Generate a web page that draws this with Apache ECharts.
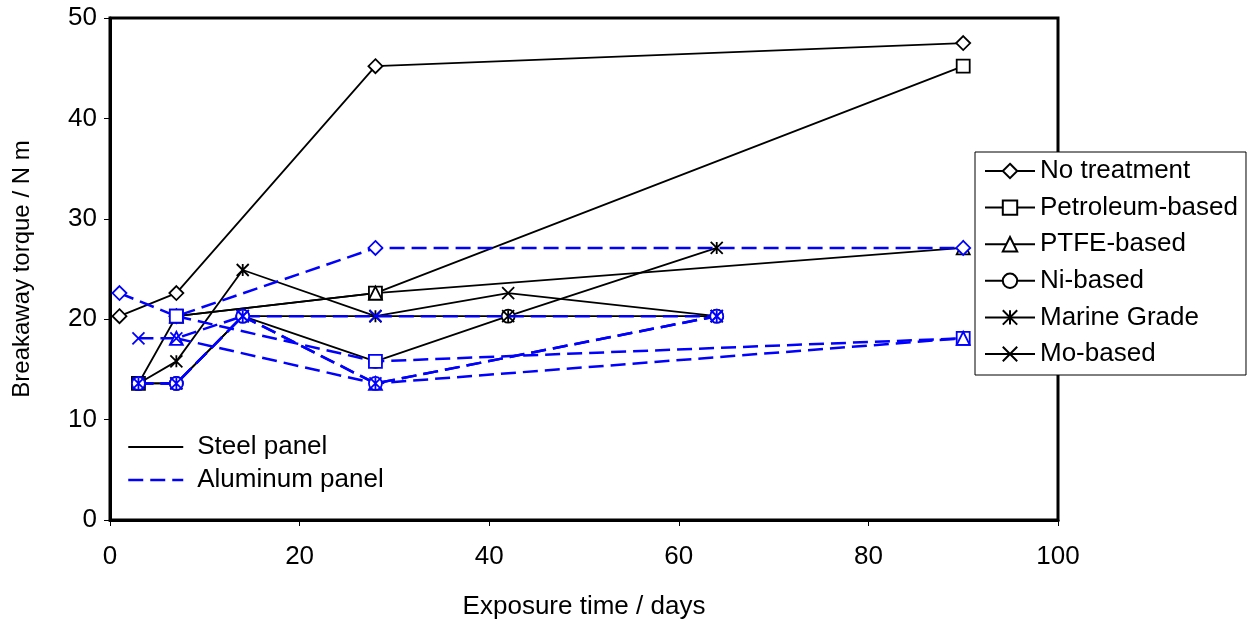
<!DOCTYPE html>
<html>
<head>
<meta charset="utf-8">
<script src="https://cdn.jsdelivr.net/npm/echarts@6/dist/echarts.min.js"></script>
<style>html,body{margin:0;padding:0;background:#fff}#c{width:1247px;height:627px}</style>
</head>
<body>
<div id="c"></div>
<script>
// Exposure days (x positions)
const days = [1, 3, 7, 14, 28, 42, 64, 90];
// Steel panel (N m)
const steelNoTreatment = [20.3, null, 22.6, null, 45.2, null, null, 47.5];
const steelPetroleum   = [null, 13.6, 20.3, null, 22.6, null, null, 45.2];
const steelPTFE        = [null, null, 20.3, null, 22.6, null, null, 27.1];
const steelNi          = [null, 13.6, 13.6, 20.3, 15.8, 20.3, 20.3, null];
const steelMarine      = [null, 13.6, 15.8, 24.9, 20.3, 20.3, 27.1, null];
const steelMo          = [null, 13.6, 13.6, 20.3, 20.3, 22.6, 20.3, null];
// Aluminum panel (N m)
const alNoTreatment = [22.6, null, 20.3, null, 27.1, null, null, 27.1];
const alPetroleum   = [null, null, 20.3, null, 15.8, null, null, 18.1];
const alPTFE        = [null, null, 18.1, null, 13.6, null, null, 18.1];
const alNi          = [null, 13.6, 13.6, 20.3, 13.6, null, 20.3, null];
const alMarine      = [null, 13.6, 13.6, 20.3, 13.6, null, 20.3, null];
const alMo          = [null, 18.1, 18.1, 20.3, 20.3, null, 20.3, null];
// Labels
const treatments = ['No treatment', 'Petroleum-based', 'PTFE-based', 'Ni-based', 'Marine Grade', 'Mo-based'];
const panels = ['Steel panel', 'Aluminum panel'];

const SYM = {
  'No treatment': 'diamond',
  'Petroleum-based': 'rect',
  'PTFE-based': 'triangle',
  'Ni-based': 'circle',
  'Marine Grade': 'path://M0,0L10,10M10,0L0,10M5,0L5,10',
  'Mo-based': 'path://M0,0L10,10M10,0L0,10'
};
const SIZE = {
  'No treatment': 14, 'Petroleum-based': 13, 'PTFE-based': 13,
  'Ni-based': 13, 'Marine Grade': 12, 'Mo-based': 12
};
const DASH = [15, 7];

function pts(arr) {
  const out = [];
  arr.forEach((v, i) => { if (v !== null) out.push([days[i], v]); });
  return out;
}

const steelSets = [steelNoTreatment, steelPetroleum, steelPTFE, steelNi, steelMarine, steelMo];
const alSets = [alNoTreatment, alPetroleum, alPTFE, alNi, alMarine, alMo];

const series = [];
function addSeries(sets, color, dashed, tag) {
  sets.forEach((arr, k) => {
    const t = treatments[k];
    series.push({
      name: t + ' ' + tag,
      type: 'line',
      data: pts(arr),
      symbol: SYM[t],
      symbolSize: SIZE[t],
      showAllSymbol: true,
      animation: false,
      lineStyle: { color: color, width: dashed ? 2.5 : 1.8, type: dashed ? DASH : 'solid' },
      itemStyle: { color: '#fff', borderColor: color, borderWidth: 1.8 },
      z: dashed ? 3 : 2
    });
  });
}
addSeries(steelSets, '#000', false, '(steel)');
addSeries(alSets, '#0000ff', true, '(aluminum)');

// legend-only series
treatments.forEach(t => {
  series.push({
    name: t, type: 'line', data: [], symbol: SYM[t], symbolSize: SIZE[t],
    lineStyle: { color: '#000', width: 1.5 },
    itemStyle: { color: '#fff', borderColor: '#000', borderWidth: 1.5 }
  });
});
series.push({ name: panels[0], type: 'line', data: [], symbol: 'none',
  lineStyle: { color: '#000', width: 2 }, itemStyle: { color: '#000' } });
series.push({ name: panels[1], type: 'line', data: [], symbol: 'none',
  lineStyle: { color: '#0000ff', width: 2.5, type: DASH }, itemStyle: { color: '#0000ff' } });

const font = 'Liberation Sans, Arial, sans-serif';
const FS = 26;
const chart = echarts.init(document.getElementById('c'), null, { renderer: 'canvas' });
chart.setOption({
  backgroundColor: '#fff',
  animation: false,
  grid: { left: 110, top: 18, right: 189, bottom: 107, show: true, borderColor: '#000', borderWidth: 3, backgroundColor: 'transparent' },
  xAxis: {
    type: 'value', min: 0, max: 100, interval: 20,
    name: 'Exposure time / days', nameLocation: 'middle', nameGap: 74,
    nameTextStyle: { fontFamily: font, fontSize: FS, color: '#000' },
    axisLine: { show: true, lineStyle: { color: '#000', width: 3 } },
    axisTick: { show: true, length: 6, inside: false, lineStyle: { color: '#000', width: 1 } },
    axisLabel: { fontFamily: font, fontSize: FS, color: '#000', margin: 24 },
    splitLine: { show: false }
  },
  yAxis: {
    type: 'value', min: 0, max: 50, interval: 10,
    name: 'Breakaway torque / N m', nameLocation: 'middle', nameGap: 76,
    nameTextStyle: { fontFamily: font, fontSize: 24, color: '#000' },
    axisLine: { show: true, lineStyle: { color: '#000', width: 3 } },
    axisTick: { show: true, length: 6, inside: false, lineStyle: { color: '#000', width: 1 } },
    axisLabel: { fontFamily: font, fontSize: FS, color: '#000', margin: 13 },
    splitLine: { show: false }
  },
  legend: [
    {
      data: treatments, orient: 'vertical', left: 975, top: 152,
      backgroundColor: '#fff', borderColor: '#000', borderWidth: 1,
      padding: [6, 8, 8, 9], itemGap: 10.6, itemWidth: 50, itemHeight: 18,
      textStyle: { fontFamily: font, fontSize: FS, color: '#000', lineHeight: 26 },
      selectedMode: false
    },
    {
      data: [
        { name: panels[0], lineStyle: { color: '#000', width: 2 } },
        { name: panels[1], lineStyle: { color: '#0000ff', width: 2.5, type: DASH } }
      ],
      orient: 'vertical', left: 127, top: 434,
      padding: 0, itemGap: 7, itemWidth: 55, itemHeight: 14,
      itemStyle: { color: 'rgba(0,0,0,0)', borderWidth: 0, borderColor: 'rgba(0,0,0,0)' },
      textStyle: { fontFamily: font, fontSize: FS, color: '#000', lineHeight: 26, padding: [0, 0, 0, 9] },
      selectedMode: false
    }
  ],
  series: series
});
</script>
</body>
</html>
